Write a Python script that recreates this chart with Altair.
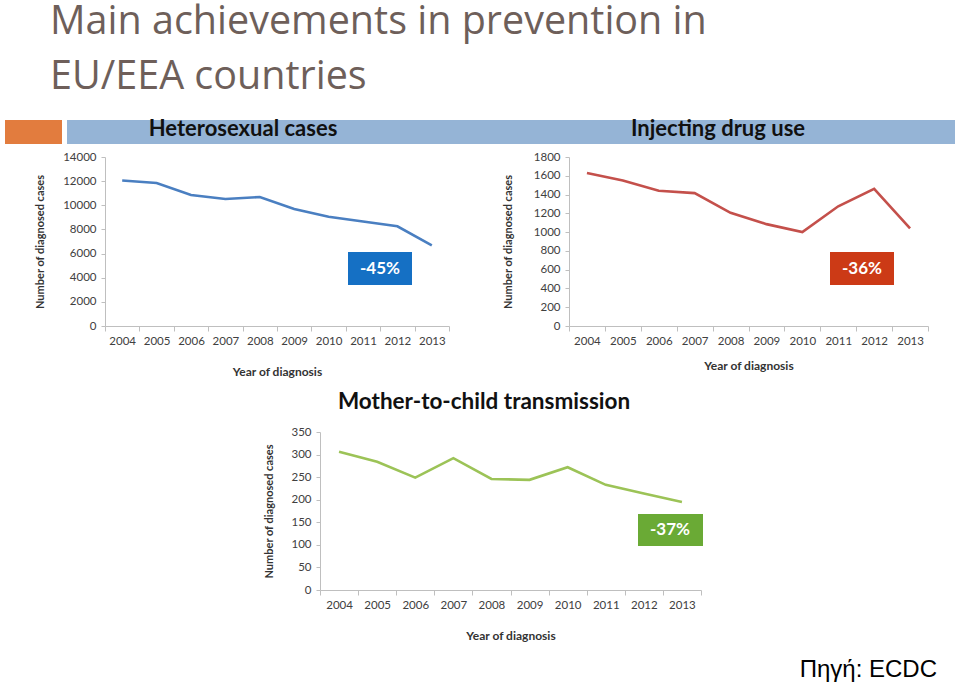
import altair as alt
import pandas as pd

# ---- data ----
years = [str(y) for y in range(2004, 2014)]
hetero_cases = [12050, 11850, 10850, 10520, 10680, 9700, 9050, 8650, 8260, 6680]
idu_cases = [1630, 1550, 1440, 1415, 1205, 1085, 1000, 1275, 1460, 1040]
mtct_cases = [306, 284, 249, 292, 246, 244, 272, 233, 214, 195]

slide_title = ["Main achievements in prevention in", "EU/EEA countries"]
panel_titles = ["Heterosexual cases", "Injecting drug use", "Mother-to-child transmission"]
badge_texts = ["-45%", "-36%", "-37%"]
source_note = "Πηγή: ECDC"
x_title = "Year of diagnosis"
y_title = "Number of diagnosed cases"

W, H = 960, 683
FONT = "Lato"
AXIS_GRAY = "#BFBFBF"
LABEL_COLOR = "#404040"


def panel(values, color, x_range, y_range, y_max, y_step, x_title_pad, y_title_pad):
    df = pd.DataFrame({"year": years, "cases": values})
    x0 = x_range[0]
    y0 = y_range[0]
    return alt.Chart(df).mark_line(color=color, strokeWidth=2.6).encode(
        x=alt.X(
            "year:O",
            bandPosition=0.5,
            scale=alt.Scale(type="band", range=x_range, paddingInner=0, paddingOuter=0),
            axis=alt.Axis(
                orient="bottom", offset=y0 - H, title=x_title, labelAngle=0,
                tickBand="extent", tickSize=5, tickColor=AXIS_GRAY, domainColor=AXIS_GRAY,
                labelFont=FONT, labelFontSize=11.5, labelColor=LABEL_COLOR, labelPadding=4,
                titleFont=FONT, titleFontSize=12, titleFontWeight="bold", titleColor="#333333",
                titlePadding=x_title_pad, grid=False,
            ),
        ),
        y=alt.Y(
            "cases:Q",
            scale=alt.Scale(domain=[0, y_max], range=y_range, nice=False, zero=True),
            axis=alt.Axis(
                orient="left", offset=-x0, title=y_title, format="d",
                values=list(range(0, y_max + 1, y_step)),
                tickSize=4, tickColor=AXIS_GRAY, domainColor=AXIS_GRAY,
                labelFont=FONT, labelFontSize=11.5, labelColor=LABEL_COLOR, labelPadding=5,
                titleFont=FONT, titleFontSize=11, titleFontWeight="bold", titleColor="#333333",
                titlePadding=y_title_pad, grid=False,
            ),
        ),
    )


def label(text, x, y, size, color, weight="normal", align="center", baseline="middle", font=FONT):
    return alt.Chart(pd.DataFrame({"t": [text]})).mark_text(
        align=align, baseline=baseline, fontSize=size, color=color,
        fontWeight=weight, font=font,
    ).encode(x=alt.value(x), y=alt.value(y), text="t:N")


def box(x1, x2, y1, y2, color):
    return alt.Chart(pd.DataFrame({"k": [0]})).mark_rect(color=color).encode(
        x=alt.value(x1), x2=alt.value(x2), y=alt.value(y1), y2=alt.value(y2)
    )


layers = [
    # slide title
    label(slide_title[0], 50, 34, 39.5, "#6E5F5A", align="left", baseline="alphabetic", font="Open Sans"),
    label(slide_title[1], 50, 89, 39.5, "#6E5F5A", align="left", baseline="alphabetic", font="Open Sans"),
    # header band
    box(5, 62, 120, 144, "#E27C3E"),
    box(67, 955, 120, 144, "#95B4D6"),
    label(panel_titles[0], 243, 129, 22, "#111111", weight="bold"),
    label(panel_titles[1], 718, 129, 22, "#111111", weight="bold"),
    label(panel_titles[2], 484, 402, 22.5, "#111111", weight="bold"),
    # panels
    panel(hetero_cases, "#4A7FC1", [105, 449], [326, 157], 14000, 2000, 20, 17),
    panel(idu_cases, "#C4504B", [569, 928], [326, 157], 1800, 200, 14, 20),
    panel(mtct_cases, "#9CC357", [320, 701], [590, 432], 350, 50, 20, 16),
    # badges
    box(348, 412, 252, 285, "#1570C4"),
    label(badge_texts[0], 380, 269, 17, "white", weight="bold"),
    box(830, 894, 252, 285, "#CC3A16"),
    label(badge_texts[1], 862, 269, 17, "white", weight="bold"),
    box(638, 703, 514, 546, "#6AAA35"),
    label(badge_texts[2], 670, 530, 17, "white", weight="bold"),
    # source note
    label(source_note, 937, 677, 24, "#000000", align="right", baseline="alphabetic",
          font="Liberation Sans"),
]

chart = alt.layer(*layers).resolve_scale(
    x="independent", y="independent"
).properties(
    width=W, height=H, padding=0,
    autosize=alt.AutoSizeParams(type="none"),
    background="white",
).configure_view(stroke=None)

chart.save("out.html", embed_options={"renderer": "svg", "actions": False})
